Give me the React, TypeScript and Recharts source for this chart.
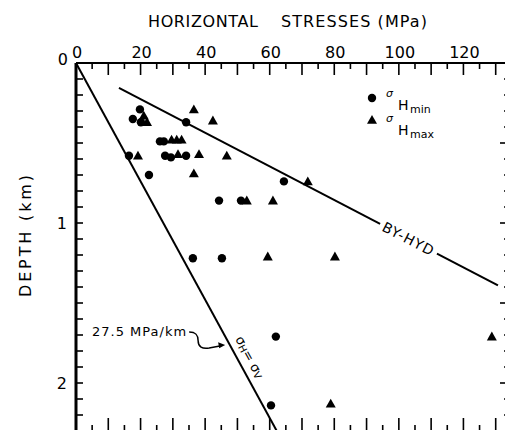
import React from 'react';
import { ScatterChart, Scatter, XAxis, YAxis, ReferenceLine, ReferenceDot } from 'recharts';

// tick positions
const stressTicks = [0, 5, 10, 15, 20, 25, 30, 35, 40, 45, 50, 55, 60, 65, 70, 75, 80, 85, 90, 95, 100, 105, 110, 115, 120, 125, 130];
const depthTicks = [0, 0.1, 0.2, 0.3, 0.4, 0.5, 0.6, 0.7, 0.8, 0.9, 1, 1.1, 1.2, 1.3, 1.4, 1.5, 1.6, 1.7, 1.8, 1.9, 2, 2.1, 2.2, 2.3];

// sigma H min (MPa, km)
const sHmin = [
    { x: 19.8, y: 0.29 }, { x: 17.6, y: 0.35 }, { x: 20.1, y: 0.37 }, { x: 34.1, y: 0.37 },
    { x: 26.0, y: 0.49 }, { x: 27.2, y: 0.49 }, { x: 16.4, y: 0.58 }, { x: 27.6, y: 0.58 },
    { x: 29.4, y: 0.59 }, { x: 34.1, y: 0.58 }, { x: 22.6, y: 0.70 }, { x: 64.4, y: 0.74 },
    { x: 44.3, y: 0.86 }, { x: 51.1, y: 0.86 }, { x: 36.2, y: 1.22 }, { x: 45.2, y: 1.22 },
    { x: 61.9, y: 1.71 }, { x: 60.4, y: 2.14 },
];

// sigma H max (MPa, km)
const sHmax = [
    { x: 21.0, y: 0.33 }, { x: 22.0, y: 0.37 }, { x: 36.5, y: 0.29 }, { x: 42.4, y: 0.36 },
    { x: 29.6, y: 0.48 }, { x: 31.2, y: 0.48 }, { x: 32.7, y: 0.48 }, { x: 19.2, y: 0.58 },
    { x: 31.6, y: 0.57 }, { x: 38.1, y: 0.57 }, { x: 46.7, y: 0.58 }, { x: 36.5, y: 0.69 },
    { x: 71.8, y: 0.74 }, { x: 52.9, y: 0.86 }, { x: 61.0, y: 0.86 }, { x: 59.4, y: 1.21 },
    { x: 80.2, y: 1.21 }, { x: 128.8, y: 1.71 }, { x: 78.9, y: 2.13 },
];

// sigma H = sigma V line and the BY-HYD trend (split round its label)
const verticalLine = [{ x: 0, y: 0 }, { x: 62.2, y: 2.3 }];
const hydLineA = [{ x: 13.3, y: 0.156 }, { x: 94.2, y: 1.006 }];
const hydLineB = [{ x: 111.8, y: 1.191 }, { x: 130.7, y: 1.39 }];

const TOP = 63;
const LEFT = 76;
const BOTTOM = 431;
const RIGHT = 507;
const W = 520;
const H = 440;
const FONT = '"DejaVu Sans", sans-serif';

const TopTick = (props: any) => {
    const { x, payload } = props;
    const v = payload.value;
    const long = v % 10 === 0;
    return (
        <g>
            <line x1={x} x2={x} y1={TOP} y2={TOP + (long ? 12 : 6)} stroke="#000" strokeWidth={1.6} />
            {v % 20 === 0 && (
                <text x={x + 1} y={TOP - 5} textAnchor="middle" fontSize={16} fontFamily={FONT} fill="#000">{v}</text>
            )}
        </g>
    );
};

const BottomTick = (props: any) => {
    const { x, payload } = props;
    const long = payload.value % 10 === 0;
    return <line x1={x} x2={x} y1={BOTTOM} y2={BOTTOM - (long ? 13 : 6)} stroke="#000" strokeWidth={1.6} />;
};

const LeftTick = (props: any) => {
    const { y, payload } = props;
    const v = payload.value;
    return (
        <g>
            <line x1={LEFT} x2={LEFT + 7} y1={y} y2={y} stroke="#000" strokeWidth={1.6} />
            {Number.isInteger(v) && v > 0 && (
                <text x={LEFT - 9} y={y} textAnchor="end" dominantBaseline="central" fontSize={16} fontFamily={FONT} fill="#000">{v}</text>
            )}
        </g>
    );
};

const RightTick = (props: any) => {
    const { y, payload } = props;
    const major = Math.round(payload.value * 10) % 5 === 0;
    return <line x1={RIGHT} x2={RIGHT - (major ? 7 : 3)} y1={y} y2={y} stroke="#000" strokeWidth={1.6} />;
};

const Dot = (p: any) => <circle cx={p.cx} cy={p.cy} r={4.2} fill="#000" />;
const Tri = (p: any) => (
    <polygon points={`${p.cx},${p.cy - 5} ${p.cx - 5},${p.cy + 3.8} ${p.cx + 5},${p.cy + 3.8}`} fill="#000" />
);

export default function App() {
    // axes are 1px thick boxes, so the margins are one short of the plot edges
    const margin = { top: TOP - 1, left: LEFT - 1, right: W - RIGHT - 1, bottom: H - BOTTOM - 1 };
    return (
        <div style={{ position: 'fixed', left: 0, top: 0, width: 505, height: 430, overflow: 'hidden', background: '#fff' }}>
            <ScatterChart width={W} height={H} margin={margin}>
                <XAxis xAxisId="t" orientation="top" type="number" dataKey="x" domain={[0, 133.5]} ticks={stressTicks}
                    interval={0} height={1} tickLine={false} tick={(p: any) => <TopTick {...p} />}
                    axisLine={{ stroke: '#000', strokeWidth: 2 }} allowDataOverflow />
                <XAxis xAxisId="b" orientation="bottom" type="number" dataKey="x" domain={[0, 133.5]} ticks={stressTicks}
                    interval={0} height={1} tickLine={false} tick={(p: any) => <BottomTick {...p} />}
                    axisLine={{ stroke: '#000', strokeWidth: 2 }} allowDataOverflow />
                <YAxis yAxisId="l" type="number" dataKey="y" domain={[0, 2.3]} reversed ticks={depthTicks}
                    interval={0} width={1} tickLine={false} tick={(p: any) => <LeftTick {...p} />}
                    axisLine={{ stroke: '#000', strokeWidth: 3 }} allowDataOverflow />
                <YAxis yAxisId="r" orientation="right" type="number" dataKey="y" domain={[0, 2.3]} reversed ticks={depthTicks}
                    interval={0} width={1} tickLine={false} tick={(p: any) => <RightTick {...p} />}
                    axisLine={{ stroke: '#000', strokeWidth: 2 }} allowDataOverflow />

                <ReferenceLine xAxisId="t" yAxisId="l" segment={verticalLine} stroke="#000" strokeWidth={2} ifOverflow="visible" />
                <ReferenceLine xAxisId="t" yAxisId="l" segment={hydLineA} stroke="#000" strokeWidth={2} ifOverflow="visible" />
                <ReferenceLine xAxisId="t" yAxisId="l" segment={hydLineB} stroke="#000" strokeWidth={2} ifOverflow="visible" />

                <Scatter xAxisId="t" yAxisId="l" name="σHmin" data={sHmin} shape={Dot} isAnimationActive={false} />
                <Scatter xAxisId="t" yAxisId="l" name="σHmax" data={sHmax} shape={Tri} isAnimationActive={false} />

                <ReferenceDot xAxisId="t" yAxisId="l" x={103} y={1.099} r={0} ifOverflow="visible"
                    shape={(p: any) => (
                        <text x={p.cx} y={p.cy} transform={`rotate(27.5 ${p.cx} ${p.cy})`} textAnchor="middle"
                            dominantBaseline="central" fontSize={14} letterSpacing={1} fontFamily={FONT} fill="#000">BY-HYD</text>
                    )} />
                <ReferenceDot xAxisId="t" yAxisId="l" x={53.9} y={1.8375} r={0} ifOverflow="visible"
                    shape={(p: any) => (
                        <text x={p.cx} y={p.cy} transform={`rotate(61.4 ${p.cx} ${p.cy})`} textAnchor="middle"
                            dominantBaseline="central" fontSize={13} fontFamily={FONT} fill="#000">
                            σ<tspan fontSize={10} dy={2}>H</tspan><tspan dy={-2}>= σ</tspan><tspan fontSize={10} dy={2}>V</tspan>
                        </text>
                    )} />
                <ReferenceDot xAxisId="t" yAxisId="l" x={19.7} y={1.681} r={0} ifOverflow="visible"
                    shape={(p: any) => (
                        <text x={p.cx} y={p.cy} textAnchor="middle" dominantBaseline="central" fontSize={13}
                            letterSpacing={1} fontFamily={FONT} fill="#000">27.5 MPa/km</text>
                    )} />
                <ReferenceDot xAxisId="t" yAxisId="l" x={46.2} y={1.7625} r={0} ifOverflow="visible"
                    shape={(p: any) => (
                        <g transform={`translate(${p.cx} ${p.cy})`}>
                            <path d="M -36 -13 C -29 -13 -27 -10 -27 -4 C -27 2 -23 4 -16 3 L -4 0.8" fill="none" stroke="#000" strokeWidth={1.5} />
                            <polygon points="0,0 -7,-2.8 -6,3.2" fill="#000" />
                        </g>
                    )} />
            </ScatterChart>

            <svg width={505} height={430} style={{ position: 'absolute', left: 0, top: 0, pointerEvents: 'none' }}>
                <g fontFamily={FONT} fill="#000">
                    <text x={148} y={27} fontSize={16} textLength={110} lengthAdjust="spacing">HORIZONTAL</text>
                    <text x={281} y={27} fontSize={16} textLength={146} lengthAdjust="spacing">STRESSES (MPa)</text>
                    <text transform="translate(31 297) rotate(-90)" fontSize={16} textLength={122} lengthAdjust="spacing">DEPTH (km)</text>
                    <text x={LEFT - 8} y={TOP + 2} textAnchor="end" fontSize={16}>0</text>

                    <circle cx={372} cy={98} r={4.2} />
                    <text x={386} y={97} fontSize={11} fontStyle="italic">σ</text>
                    <text x={398} y={110} fontSize={14}>H</text>
                    <text x={410} y={113} fontSize={11}>min</text>

                    <polygon points="372,115 367,123.8 377,123.8" />
                    <text x={386} y={122} fontSize={11} fontStyle="italic">σ</text>
                    <text x={398} y={135} fontSize={14}>H</text>
                    <text x={410} y={138} fontSize={11}>max</text>
                </g>
            </svg>
        </div>
    );
}
